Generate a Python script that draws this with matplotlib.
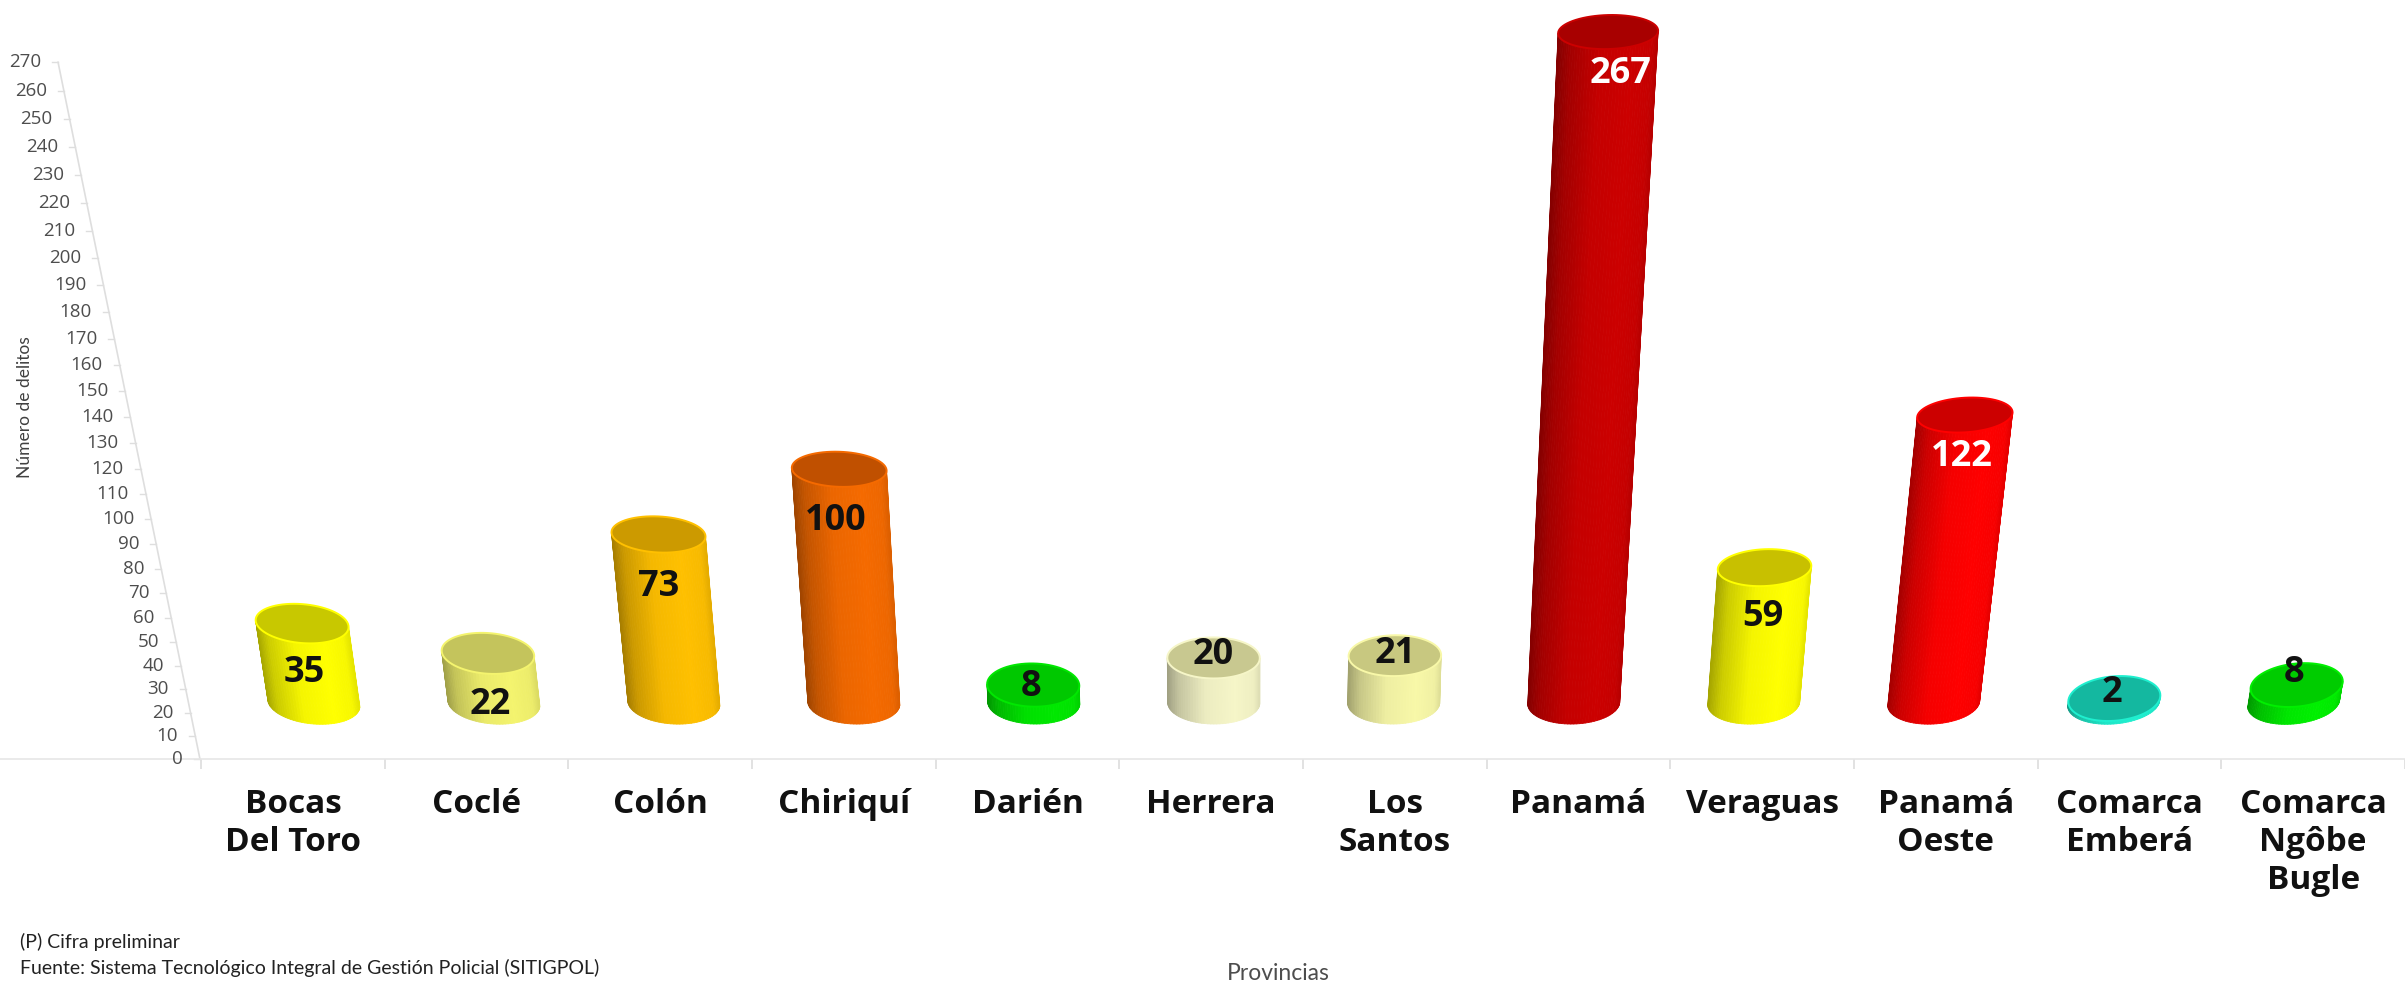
import numpy as np
import matplotlib
matplotlib.use("Agg")
import matplotlib.pyplot as plt
from matplotlib.colors import to_rgb
from matplotlib.collections import PolyCollection
from matplotlib.patches import Polygon

# ---------- data ----------
provinces = ["Bocas\nDel Toro", "Coclé", "Colón", "Chiriquí", "Darién", "Herrera", "Los\nSantos",
             "Panamá", "Veraguas", "Panamá\nOeste", "Comarca\nEmberá", "Comarca\nNgôbe\nBugle"]
values = [35, 22, 73, 100, 8, 20, 21, 267, 59, 122, 2, 8]
y_ticks = list(range(0, 271, 10))
body_colors = ["#FFFF00", "#F4F46E", "#FFC000", "#F56A00", "#00E800", "#F6F6C8", "#F8F8A8",
               "#CC0000", "#FFFF00", "#FF0000", "#1FEFCF", "#00F000"]
cap_colors = ["#C8C800", "#C4C45C", "#CC9A00", "#C05000", "#00C800", "#C8C890", "#C8C880",
              "#A80000", "#C8C000", "#CC0000", "#14B8A0", "#00CC00"]
label_colors = ["#111111"] * 7 + ["white", "#111111", "white", "#111111", "#111111"]
# label offset from the top centre of each cylinder, in pixels (right, down)
label_dx = [2, 2, 0, -3, -2, 0, 0, 12, -2, -3, -2, -3]
label_dy = [49, 52, 53, 52, 2, -3, -2, 42, 49, 42, -6, -12]

# ---------- projection of the tilted 3D view ----------
A, B = 2.289, 0.00108          # pixel height of a value, rising with perspective
ZERO_PX, FIG_W, FIG_H = 759, 2405, 983
CAT0, CAT_W = 293, 183.7       # pixel of first category and category width
FLOOR = 56                     # bases sit this far above the zero line
BAR_DEPTH = 0.975              # bars stand further back than the axis


def forward(v):
    v = np.asarray(v, dtype=float)
    return A * v + B * v * v


def inverse(h):
    h = np.asarray(h, dtype=float)
    return (-A + np.sqrt(np.maximum(A * A + 4 * B * h, 0))) / (2 * B)


plt.rcParams["font.family"] = ["Open Sans", "DejaVu Sans"]
fig = plt.figure(figsize=(FIG_W / 100, FIG_H / 100), dpi=100, facecolor="white")
ax = fig.add_axes([0, 0, 1, 1])
ax.set_yscale("function", functions=(forward, inverse))
ax.set_ylim(inverse(-(FIG_H - ZERO_PX)), inverse(ZERO_PX))
ax.set_xlim(-CAT0 / CAT_W, (FIG_W - CAT0) / CAT_W)
ax.patch.set_alpha(0)
for s in ("top", "left", "right"):
    ax.spines[s].set_visible(False)
ax.spines["bottom"].set_position(("data", 0))
ax.spines["bottom"].set_color("#e6e6e6")
ax.spines["bottom"].set_linewidth(1.2)
ax.set_yticks([])
ax.minorticks_off()
ax.yaxis.set_major_locator(plt.NullLocator())
ax.yaxis.set_minor_locator(plt.NullLocator())
n = len(values)
ax.set_xticks(np.arange(n))
ax.set_xticklabels(provinces, fontsize=24, fontweight="bold", color="#111111", linespacing=1.2)
ax.set_xticks(np.arange(n + 1) - 0.5, minor=True)
ax.tick_params(axis="x", which="major", length=0, pad=21)
ax.tick_params(axis="x", which="minor", length=7, width=1.2, color="#dddddd")


def pt(x_data, v, dx=0.0, dy=0.0):
    """data point shifted dx pixels right and dy pixels up from (x_data, v)"""
    return x_data + np.asarray(dx) / CAT_W, inverse(forward(v) + dy)


# slanted value axis
AX_X = (200 - CAT0) / CAT_W
AX_SLOPE = -0.2037
vals = np.array(y_ticks, dtype=float)
ax_xs = AX_X + AX_SLOPE * forward(vals) / CAT_W
ax.plot(ax_xs, vals, color="#dedede", lw=1.2, clip_on=False)
for v, xx in zip(y_ticks, ax_xs):
    tx, ty = pt(xx, v, np.array([-6, 0]), 0)
    ax.plot(tx, [v, v], color="#dedede", lw=1.0)
    ax.annotate(str(v), xy=(xx, v), xytext=(-17, 0), textcoords="offset pixels",
                ha="right", va="center", fontsize=13.5, color="#4d4d4d")


def shade(base, f):
    """body shading across the cylinder, f from 0 (left) to 1 (right)"""
    c = np.array(to_rgb(base))
    k = np.interp(f, [0, 0.12, 0.4, 0.72, 0.93, 1], [0.65, 0.8, 0.96, 1.0, 0.97, 0.9])
    return np.clip(c * k, 0, 1)


thetas = np.linspace(np.pi, 0, 49)
circle = np.linspace(0, 2 * np.pi, 73)

for i, (val, bc, cc) in enumerate(zip(values, body_colors, cap_colors)):
    base_x = i * 0.98 + 0.114
    base_px = CAT0 + CAT_W * base_x
    h = BAR_DEPTH * float(forward(val))
    slant = 0.000158 * (base_px - 1250)
    tilt = (1250 - base_px) * 0.00008
    top_dx = slant * h
    rx_b, rx_t = 46.0, 46 + 0.006 * h
    ry_b = 21.0
    ry_t = 17 + 5.5 * np.exp(-h / 100)

    quads, cols = [], []
    for t0, t1 in zip(thetas[:-1], thetas[1:]):
        q = []
        for t, r_x, r_y, off_x, off_h in ((t0, rx_b, ry_b, 0, 0), (t1, rx_b, ry_b, 0, 0),
                                          (t1, rx_t, ry_t, top_dx, h), (t0, rx_t, ry_t, top_dx, h)):
            ex, ey = r_x * np.cos(t), r_y * np.sin(t)
            ey += tilt * ex
            q.append(pt(base_x, 0, off_x + ex, FLOOR + off_h - ey))
        quads.append(np.array([(float(a), float(b)) for a, b in q]))
        cols.append(shade(bc, (np.cos(t0) + 1) / 2))
    ax.add_collection(PolyCollection(quads, facecolors=cols, edgecolors=cols, linewidths=0.6, zorder=3))

    cx, cy = pt(base_x, 0, top_dx + rx_t * np.cos(circle),
                FLOOR + h - (ry_t * np.sin(circle) + tilt * rx_t * np.cos(circle)))
    ax.add_patch(Polygon(np.column_stack([cx, cy]), closed=True, facecolor=cc, edgecolor=bc,
                         linewidth=1.4, zorder=4))
    ax.annotate(str(val), xy=pt(base_x, 0, top_dx, FLOOR + h),
                xytext=(label_dx[i], -label_dy[i]), textcoords="offset pixels",
                ha="center", va="center", fontsize=26, fontweight="bold",
                color=label_colors[i], zorder=6)

fig.text(1278 / FIG_W, 1 - 974 / FIG_H, "Provincias", ha="center", va="center",
         fontsize=16.5, color="#4d4d4d", family="Lato")
fig.text(25 / FIG_W, 1 - 407 / FIG_H, "Número de delitos", ha="center", va="center",
         rotation=90, fontsize=12.5, color="#404040", family="Lato")
fig.text(20 / FIG_W, 1 - 942 / FIG_H, "(P) Cifra preliminar", ha="left", va="center",
         fontsize=14, color="#222222", family="Lato")
fig.text(20 / FIG_W, 1 - 968 / FIG_H, "Fuente: Sistema Tecnológico Integral de Gestión Policial (SITIGPOL)",
         ha="left", va="center", fontsize=14, color="#222222", family="Lato")

fig.savefig("out.png", dpi=100, facecolor="white")
